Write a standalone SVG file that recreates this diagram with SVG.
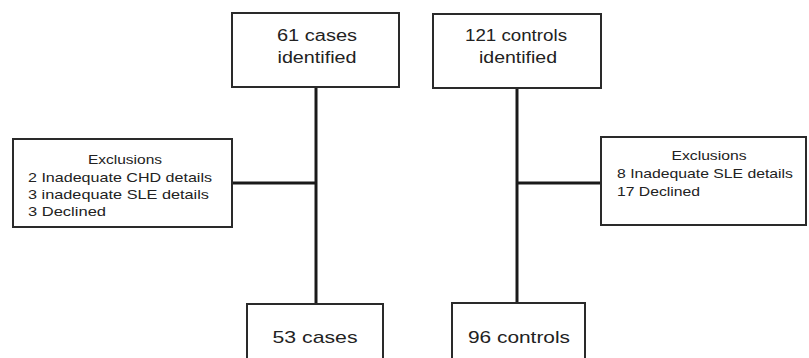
<svg xmlns="http://www.w3.org/2000/svg" width="809" height="358" viewBox="0 0 809 358">
<style>
.box{fill:#fff;stroke:#2a2a2a;stroke-width:2}
.conn{stroke:#1a1a1a;stroke-width:3;fill:none}
text{font-family:"Liberation Sans",Arial,sans-serif;fill:#222}
.t{font-size:16px}
.s{font-size:13px}
.b{font-size:17px}
</style>
<rect width="809" height="358" fill="#fff"/>
<g id="connectors">
<line class="conn" x1="316" y1="87" x2="316" y2="304"/>
<line class="conn" x1="232" y1="183" x2="316" y2="183"/>
<line class="conn" x1="517" y1="88" x2="517" y2="303"/>
<line class="conn" x1="517" y1="183" x2="601" y2="183"/>
</g>
<g id="cases_identified">
<rect class="box" x="232" y="13" width="167" height="74"/>
<text class="t" x="317" y="41" text-anchor="middle" textLength="80" lengthAdjust="spacingAndGlyphs">61 cases</text>
<text class="t" x="317" y="63" text-anchor="middle" textLength="79" lengthAdjust="spacingAndGlyphs">identified</text>
</g>
<g id="controls_identified">
<rect class="box" x="433" y="14" width="168" height="74"/>
<text class="t" x="516" y="41" text-anchor="middle" textLength="102" lengthAdjust="spacingAndGlyphs">121 controls</text>
<text class="t" x="518" y="63" text-anchor="middle" textLength="78" lengthAdjust="spacingAndGlyphs">identified</text>
</g>
<g id="exclusions_cases">
<rect class="box" x="13" y="139" width="219" height="88"/>
<text class="s" x="125" y="164" text-anchor="middle" textLength="74" lengthAdjust="spacingAndGlyphs">Exclusions</text>
<text class="s" x="28" y="182" textLength="184" lengthAdjust="spacingAndGlyphs">2 Inadequate CHD details</text>
<text class="s" x="28" y="199" textLength="181" lengthAdjust="spacingAndGlyphs">3 inadequate SLE details</text>
<text class="s" x="28" y="216" textLength="78" lengthAdjust="spacingAndGlyphs">3 Declined</text>
</g>
<g id="exclusions_controls">
<rect class="box" x="601" y="137" width="205" height="88"/>
<text class="s" x="709" y="160" text-anchor="middle" textLength="75" lengthAdjust="spacingAndGlyphs">Exclusions</text>
<text class="s" x="617" y="178" textLength="176" lengthAdjust="spacingAndGlyphs">8 Inadequate SLE details</text>
<text class="s" x="617" y="196" textLength="83" lengthAdjust="spacingAndGlyphs">17 Declined</text>
</g>
<g id="cases_final">
<rect class="box" x="247" y="304" width="136" height="70"/>
<text class="b" x="315" y="343" text-anchor="middle" textLength="85" lengthAdjust="spacingAndGlyphs">53 cases</text>
</g>
<g id="controls_final">
<rect class="box" x="452" y="303" width="133" height="70"/>
<text class="b" x="519" y="343" text-anchor="middle" textLength="102" lengthAdjust="spacingAndGlyphs">96 controls</text>
</g>
</svg>
